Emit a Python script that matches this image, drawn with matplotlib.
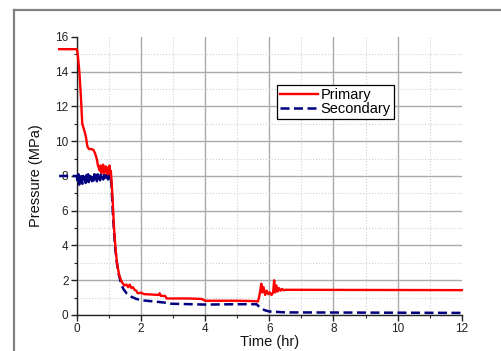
import matplotlib
matplotlib.use("Agg")
import matplotlib.pyplot as plt
from matplotlib.lines import Line2D
from matplotlib.ticker import MultipleLocator

plt.rcParams['font.family'] = ['Liberation Sans', 'DejaVu Sans']

# ---- data ----
primary_t = [-0.55, 0.0, 0.03, 0.08, 0.13, 0.17, 0.22, 0.28, 0.33, 0.38, 0.45, 0.52, 0.57,
             0.62, 0.66, 0.70, 0.72, 0.74, 0.76, 0.78, 0.80, 0.82, 0.84, 0.86, 0.88, 0.90,
             0.92, 0.94, 0.96, 0.98, 1.00, 1.02, 1.04, 1.06, 1.08, 1.12, 1.16, 1.20, 1.25,
             1.32, 1.40, 1.48, 1.55, 1.60, 1.65, 1.70, 1.75, 1.80, 1.85, 1.90, 2.00, 2.10,
             2.40, 2.55, 2.58, 2.62, 2.75, 2.80, 3.50, 3.90, 4.00, 5.00, 5.50, 5.65, 5.70,
             5.75, 5.78, 5.82, 5.87, 5.92, 5.97, 6.02, 6.07, 6.12, 6.15, 6.18, 6.22, 6.26,
             6.30, 6.35, 6.40, 6.45, 6.50, 12.0]
primary_p = [15.3, 15.3, 15.0, 14.0, 12.5, 11.0, 10.7, 10.3, 9.7, 9.55, 9.55, 9.5, 9.3,
             9.0, 8.6, 8.4, 8.3, 8.6, 8.2, 8.5, 8.25, 8.65, 8.15, 8.45, 8.3, 8.55,
             8.2, 8.4, 8.1, 8.5, 8.2, 8.6, 8.1, 8.3, 7.8, 6.5, 5.0, 4.0, 3.0,
             2.3, 1.9, 1.7, 1.75, 1.6, 1.75, 1.55, 1.6, 1.45, 1.4, 1.25, 1.28, 1.2,
             1.17, 1.15, 1.25, 1.1, 1.1, 0.95, 0.95, 0.92, 0.82, 0.82, 0.8, 0.78, 1.2,
             1.8, 1.3, 1.6, 1.15, 1.4, 1.2, 1.3, 1.15, 1.3, 2.0, 1.3, 1.7, 1.35,
             1.55, 1.4, 1.5, 1.42, 1.45, 1.43]

secondary_t = [-0.55, 0.0, 0.025, 0.05, 0.075, 0.10, 0.125, 0.15, 0.175, 0.20, 0.225,
               0.25, 0.275, 0.30, 0.325, 0.35, 0.375, 0.40, 0.425, 0.45, 0.475, 0.50,
               0.525, 0.55, 0.575, 0.60, 0.625, 0.65, 0.675, 0.70, 0.725, 0.75, 0.775,
               0.80, 0.825, 0.85, 0.875, 0.90, 0.925, 0.95, 0.975, 1.00, 1.025, 1.05,
               1.08, 1.12, 1.16, 1.20, 1.25, 1.30, 1.38, 1.45, 1.55, 1.70, 1.85, 2.00,
               2.40, 2.80, 2.90, 4.00, 5.00, 5.60, 5.70, 5.85, 6.00, 6.50, 12.0]
secondary_p = [8.0, 8.0, 7.6, 8.1, 7.5, 8.05, 7.7, 8.1, 7.55, 8.0, 7.8,
               8.1, 7.6, 8.05, 7.7, 8.1, 7.65, 8.0, 7.8, 8.1, 7.7, 8.05,
               7.75, 8.1, 7.8, 8.0, 7.7, 8.1, 7.85, 8.05, 7.75, 8.1, 7.9,
               8.0, 7.8, 8.1, 7.85, 8.05, 7.9, 8.1, 7.8, 8.05, 7.9, 8.0,
               7.5, 6.0, 4.8, 3.8, 3.0, 2.4, 1.8, 1.5, 1.25, 1.05, 0.93, 0.85,
               0.78, 0.7, 0.65, 0.6, 0.62, 0.62, 0.45, 0.28, 0.2, 0.15, 0.12]

x_ticks = [0, 2, 4, 6, 8, 10, 12]
y_ticks = [0, 2, 4, 6, 8, 10, 12, 14, 16]

# ---- figure ----
fig = plt.figure(figsize=(5.02, 3.51), dpi=100)
ax = fig.add_axes([0.153, 0.1026, 0.767, 0.792])

# outer frame
fig.add_artist(Line2D([14/502, 14/502], [0, 1 - 10/351], transform=fig.transFigure,
                      color='#808080', lw=1.6))
fig.add_artist(Line2D([14/502, 1], [1 - 10/351, 1 - 10/351], transform=fig.transFigure,
                      color='#808080', lw=1.6))

ax.plot(primary_t, primary_p, color='#ff0000', lw=1.7, label='Primary', clip_on=False, zorder=4)
ax.plot(secondary_t, secondary_p, color='#00007f', lw=1.8, ls=(0, (3.6, 1.8)),
        label='Secondary', clip_on=False, zorder=3)

ax.set_xlim(0, 12)
ax.set_ylim(0, 16)
ax.set_xticks(x_ticks)
ax.set_yticks(y_ticks)
ax.xaxis.set_minor_locator(MultipleLocator(1))
ax.yaxis.set_minor_locator(MultipleLocator(1))

ax.grid(which='major', color='#ababab', lw=1.0, ls='-')
ax.grid(which='minor', color='#d0d0d0', lw=0.8, ls=':')
ax.set_axisbelow(True)
ax.yaxis.get_major_ticks()[-1].gridline.set_visible(False)
ax.xaxis.get_major_ticks()[-1].gridline.set_visible(False)

for s in ['top', 'right']:
    ax.spines[s].set_visible(False)
for s in ['left', 'bottom']:
    ax.spines[s].set_color('#222222')
    ax.spines[s].set_linewidth(1.0)

ax.tick_params(which='major', direction='out', length=4, width=1, color='#222222',
               labelsize=8.5, labelcolor='#222222', pad=2)
ax.tick_params(which='minor', direction='out', length=2.5, width=0.8, color='#222222')

ax.set_xlabel('Time (hr)', fontsize=10.5, labelpad=0, color='#111111')
ax.set_ylabel('Pressure (MPa)', fontsize=10.5, labelpad=9, color='#111111')

leg = ax.legend(loc='upper left', bbox_to_anchor=(0.5195, 0.828), fontsize=10.5,
                frameon=True, fancybox=False, edgecolor='black', framealpha=1,
                handlelength=2.6, handletextpad=0.2, borderpad=0.2, labelspacing=0.05,
                borderaxespad=0)
leg.get_frame().set_linewidth(0.9)

fig.savefig('out.png', dpi=100)
